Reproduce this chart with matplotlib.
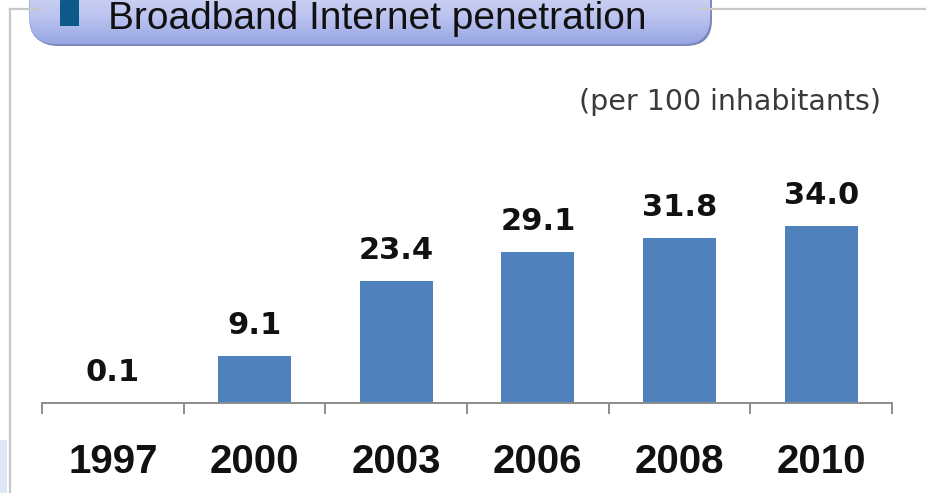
import numpy as np
import matplotlib
matplotlib.use("Agg")
import matplotlib.pyplot as plt
from matplotlib.patches import FancyBboxPatch, Rectangle
from matplotlib.lines import Line2D

# Broadband internet subscriptions per 100 inhabitants
years = ["1997", "2000", "2003", "2006", "2008", "2010"]
penetration = [0.1, 9.1, 23.4, 29.1, 31.8, 34.0]
value_labels = ["0.1", "9.1", "23.4", "29.1", "31.8", "34.0"]
title_text = "Broadband Internet penetration"
unit_text = "(per 100 inhabitants)"

W, H = 926, 493
fig = plt.figure(figsize=(W / 100, H / 100), dpi=100)
fig.patch.set_facecolor("white")

# Overlay axes in pixel coordinates for the frame and title banner
ov = fig.add_axes([0, 0, 1, 1], zorder=0)
ov.set_xlim(0, W)
ov.set_ylim(H, 0)
ov.axis("off")

frame_col = "#c8c8c8"
ov.add_line(Line2D([10, 10], [9, H], color=frame_col, lw=1.6))
ov.add_line(Line2D([10, 40], [9, 9], color=frame_col, lw=1.6))
ov.add_line(Line2D([700, W], [9, 9], color=frame_col, lw=1.6))
ov.add_patch(Rectangle((0, 440), 7, 53, color="#dde6f7", lw=0))

# Title banner: shadow, gradient fill, icon
shadow = FancyBboxPatch((32, -40), 680, 86, boxstyle="round,pad=0,rounding_size=26",
                        facecolor="#5a6aa8", edgecolor="none", alpha=0.8)
ov.add_patch(shadow)
banner = FancyBboxPatch((30, -40), 680, 84, boxstyle="round,pad=0,rounding_size=26",
                        facecolor="none", edgecolor="#7f8fc8", lw=1.0)
ov.add_patch(banner)
grad = np.linspace(0, 1, 256).reshape(-1, 1)
cmap = matplotlib.colors.LinearSegmentedColormap.from_list(
    "banner", ["#e4e7f9", "#d2d7f4", "#bcc4f0", "#97a6e3"])
img = ov.imshow(grad, extent=(30, 710, 44, -40), cmap=cmap, aspect="auto",
                interpolation="bilinear", zorder=1)
img.set_clip_path(banner)
ov.add_patch(Rectangle((60, -5), 19, 31, facecolor="#0d5a8a", edgecolor="none", zorder=2))
ov.text(108, 29, title_text, fontsize=28, family="Liberation Sans",
        color="#111111", ha="left", va="baseline", zorder=3)
ov.text(881, 102, unit_text, fontsize=20.5, family="DejaVu Sans",
        color="#3a3a3a", ha="right", va="center", zorder=3)

# Bar chart
left, right = 42, 892
base_y, top_y = 403, 60
px_per_unit = 5.2
ax = fig.add_axes([left / W, (H - base_y) / H, (right - left) / W, (base_y - top_y) / H],
                  zorder=1)
ax.patch.set_alpha(0)
x = np.arange(len(years))
ax.bar(x, penetration, width=0.515, color="#4f81bd", edgecolor="none")
ax.set_xlim(-0.5, len(years) - 0.5)
ax.set_ylim(0, (base_y - top_y) / px_per_unit)

for xi, v, lab in zip(x, penetration, value_labels):
    ax.annotate(lab, (xi, v), xytext=(0, 11.5), textcoords="offset points",
                ha="center", va="bottom", fontsize=22, fontweight="bold",
                family="DejaVu Sans", color="#111111")

for s in ["top", "right", "left"]:
    ax.spines[s].set_visible(False)
ax.spines["bottom"].set_color("#8c8c8c")
ax.spines["bottom"].set_linewidth(1.4)
ax.set_yticks([])
ax.set_xticks(x)
ax.set_xticklabels(years, fontsize=29, fontweight="bold", family="Liberation Sans",
                   color="#111111")
ax.tick_params(axis="x", which="major", length=0, pad=28.5)
ax.set_xticks(np.arange(-0.5, len(years)), minor=True)
ax.tick_params(axis="x", which="minor", length=8, width=1.4, color="#8c8c8c",
               direction="out")

fig.savefig("out.png", dpi=100, facecolor="white")
